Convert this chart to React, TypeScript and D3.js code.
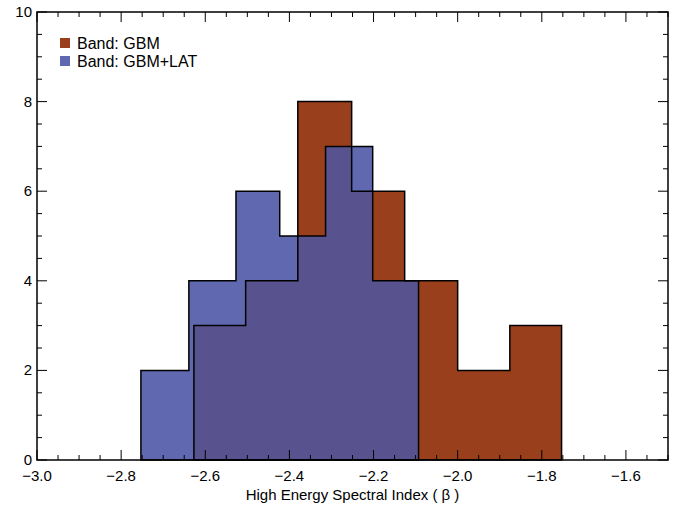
import React from "react";
import * as d3 from "d3";

const gbmEdges = [-2.627, -2.504, -2.38, -2.252, -2.126, -2.0, -1.876, -1.753];
const gbmCounts = [3, 4, 8, 6, 4, 2, 3];
const latEdges = [-2.753, -2.639, -2.527, -2.423, -2.314, -2.202, -2.093];
const latCounts = [2, 4, 6, 5, 7, 4];
const xTicks = [-3.0, -2.8, -2.6, -2.4, -2.2, -2.0, -1.8, -1.6];
const yTicks = [0, 2, 4, 6, 8, 10];

const W = 685, H = 508;
const L = 37, R = 668, T = 12, B = 460;

export default function App() {
  const x = d3.scaleLinear().domain([-3.0, -1.5]).range([L, R]);
  const y = d3.scaleLinear().domain([0, 10]).range([B, T]);
  const step = (edges: number[], counts: number[]) => {
    let p = `M${x(edges[0])},${y(0)}`;
    counts.forEach((c, i) => {
      p += `L${x(edges[i])},${y(c)}L${x(edges[i + 1])},${y(c)}`;
    });
    p += `L${x(edges[edges.length - 1])},${y(0)}Z`;
    return p;
  };
  const gP = step(gbmEdges, gbmCounts);
  const lP = step(latEdges, latCounts);
  const font = "Liberation Sans, Arial, sans-serif";
  const minorX = d3.range(-3.0, -1.499, 0.05);
  const minorY = d3.range(0, 10.01, 0.5);
  return (
    <svg width={W} height={H} style={{ position: "absolute", left: 0, top: 0 }} fontFamily={font}>
      <defs>
        <clipPath id="gclip"><path d={gP} /></clipPath>
      </defs>
      <path d={gP} fill="#9a3f1b" />
      <path d={lP} fill="#6068b0" />
      <path d={lP} fill="#58528f" clipPath="url(#gclip)" />
      <path d={gP} fill="none" stroke="#000" strokeWidth={1.5} />
      <path d={lP} fill="none" stroke="#000" strokeWidth={1.5} />
      {minorX.map((v, i) => {
        const major = Math.abs(Math.round(v * 5) - v * 5) < 1e-6;
        const len = major ? 10 : 5;
        return (
          <g key={"mx" + i} stroke="#000" strokeWidth={1}>
            <line x1={x(v)} x2={x(v)} y1={B} y2={B - len} />
            <line x1={x(v)} x2={x(v)} y1={T} y2={T + len} />
          </g>
        );
      })}
      {minorY.map((v, i) => {
        const major = Math.abs(v % 2) < 1e-6;
        const len = major ? 10 : 5;
        return (
          <g key={"my" + i} stroke="#000" strokeWidth={1}>
            <line x1={L} x2={L + len} y1={y(v)} y2={y(v)} />
            <line x1={R} x2={R - len} y1={y(v)} y2={y(v)} />
          </g>
        );
      })}
      <rect x={L} y={T} width={R - L} height={B - T} fill="none" stroke="#000" strokeWidth={1.5} />
      {xTicks.map((v) => (
        <text key={"xt" + v} x={x(v)} y={B + 21} textAnchor="middle" fontSize={15}>
          {"\u2212" + Math.abs(v).toFixed(1)}
        </text>
      ))}
      {yTicks.map((v) => (
        <text key={"yt" + v} x={L - 5} y={y(v) + 5} textAnchor="end" fontSize={15}>
          {v}
        </text>
      ))}
      <text x={(L + R) / 2} y={B + 40} textAnchor="middle" fontSize={15}>High Energy Spectral Index ( β )</text>
      <rect x={60} y={38} width={10} height={10} fill="#9a3f1b" />
      <text x={77} y={49} fontSize={16}>Band: GBM</text>
      <rect x={60} y={56} width={10} height={10} fill="#6068b0" />
      <text x={77} y={67} fontSize={16}>Band: GBM+LAT</text>
    </svg>
  );
}
